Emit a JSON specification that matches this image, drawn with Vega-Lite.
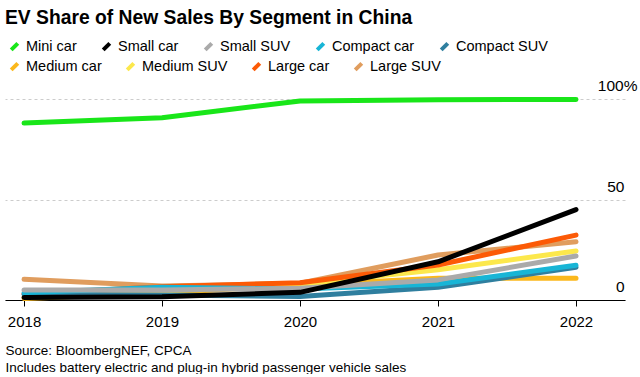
{
  "$schema": "https://vega.github.io/schema/vega-lite/v6.json",
  "width": 620,
  "height": 201,
  "padding": {"left": 5, "right": 3, "top": 8, "bottom": 0},
  "background": "#ffffff",
  "title": {"text": "EV Share of New Sales By Segment in China", "anchor": "start", "fontSize": 19.3, "font": "Liberation Sans", "fontWeight": "bold", "color": "#000000", "offset": 11},
  "config": {"view": {"stroke": null}, "font": "Liberation Sans"},
  "data": {"values": [
    {"segment": "Large SUV", "year": 2018, "share": 10.3},
    {"segment": "Large SUV", "year": 2019, "share": 7},
    {"segment": "Large SUV", "year": 2020, "share": 8.3},
    {"segment": "Large SUV", "year": 2021, "share": 22.4},
    {"segment": "Large SUV", "year": 2022, "share": 29},
    {"segment": "Medium car", "year": 2018, "share": 0.8},
    {"segment": "Medium car", "year": 2019, "share": 3.5},
    {"segment": "Medium car", "year": 2020, "share": 7.5},
    {"segment": "Medium car", "year": 2021, "share": 10.8},
    {"segment": "Medium car", "year": 2022, "share": 10.8},
    {"segment": "Medium SUV", "year": 2018, "share": 1.5},
    {"segment": "Medium SUV", "year": 2019, "share": 4.5},
    {"segment": "Medium SUV", "year": 2020, "share": 8},
    {"segment": "Medium SUV", "year": 2021, "share": 15},
    {"segment": "Medium SUV", "year": 2022, "share": 24.4},
    {"segment": "Large car", "year": 2018, "share": 3},
    {"segment": "Large car", "year": 2019, "share": 6.6},
    {"segment": "Large car", "year": 2020, "share": 8.6},
    {"segment": "Large car", "year": 2021, "share": 17.4},
    {"segment": "Large car", "year": 2022, "share": 32.3},
    {"segment": "Compact SUV", "year": 2018, "share": 2.8},
    {"segment": "Compact SUV", "year": 2019, "share": 2.5},
    {"segment": "Compact SUV", "year": 2020, "share": 1.7},
    {"segment": "Compact SUV", "year": 2021, "share": 6.3},
    {"segment": "Compact SUV", "year": 2022, "share": 16.3},
    {"segment": "Compact car", "year": 2018, "share": 3.6},
    {"segment": "Compact car", "year": 2019, "share": 6.3},
    {"segment": "Compact car", "year": 2020, "share": 5.5},
    {"segment": "Compact car", "year": 2021, "share": 8},
    {"segment": "Compact car", "year": 2022, "share": 17.3},
    {"segment": "Small SUV", "year": 2018, "share": 5},
    {"segment": "Small SUV", "year": 2019, "share": 5},
    {"segment": "Small SUV", "year": 2020, "share": 5.8},
    {"segment": "Small SUV", "year": 2021, "share": 10},
    {"segment": "Small SUV", "year": 2022, "share": 21.9},
    {"segment": "Mini car", "year": 2018, "share": 88},
    {"segment": "Mini car", "year": 2019, "share": 90.7},
    {"segment": "Mini car", "year": 2020, "share": 99},
    {"segment": "Mini car", "year": 2021, "share": 99.6},
    {"segment": "Mini car", "year": 2022, "share": 99.8},
    {"segment": "Small car", "year": 2018, "share": 1.3},
    {"segment": "Small car", "year": 2019, "share": 1.6},
    {"segment": "Small car", "year": 2020, "share": 3.8},
    {"segment": "Small car", "year": 2021, "share": 19},
    {"segment": "Small car", "year": 2022, "share": 45}
  ]},
  "encoding": {
    "x": {
      "field": "year", "type": "quantitative",
      "scale": {"domain": [2017.862, 2022.355], "nice": false, "zero": false},
      "axis": {
        "values": [2018, 2019, 2020, 2021, 2022], "format": "d", "grid": false,
        "domainColor": "#000000", "tickColor": "#000000", "tickSize": 6,
        "labelFontSize": 15, "labelColor": "#000000", "labelPadding": 8,
        "title": ["Source: BloombergNEF, CPCA", "Includes battery electric and plug-in hybrid passenger vehicle sales"],
        "titleAnchor": "start", "titleAlign": "left", "titleFontWeight": "normal",
        "titleFontSize": 13.5, "titleColor": "#000000", "titlePadding": 14, "titleLineHeight": 17
      }
    },
    "y": {
      "field": "share", "type": "quantitative",
      "scale": {"domain": [0, 100], "nice": false},
      "axis": {
        "orient": "right", "values": [0, 50, 100], "grid": true, "gridDash": [3, 3],
        "gridColor": "#cccccc", "domain": false, "ticks": false,
        "labelAlign": "right", "labelBaseline": "alphabetic",
        "labelPadding": {"condition": {"test": "datum.value == 100", "value": 12}, "value": -1},
        "labelOffset": -8.5,
        "labelFontSize": 15.5, "labelColor": "#000000",
        "labelExpr": "datum.value == 100 ? '100%' : datum.label", "title": null
      }
    }
  },
  "layer": [
    {
      "transform": [{"filter": {"field": "segment", "oneOf": ["Medium car", "Medium SUV", "Large car", "Large SUV"]}}],
      "mark": {"type": "line", "strokeWidth": 5, "strokeCap": "round", "strokeJoin": "round", "clip": false},
      "encoding": {
        "stroke": {
          "field": "segment", "type": "nominal",
          "scale": {"domain": ["Medium car", "Medium SUV", "Large car", "Large SUV"], "range": ["#fbb81c", "#fce84c", "#fc5a06", "#e09d5e"]},
          "legend": {
            "orient": "none", "legendX": 2, "legendY": -40, "direction": "horizontal", "title": null, "padding": 0,
            "symbolType": "M-0.6,0.6L0.6,-0.6", "symbolStrokeWidth": 4, "symbolSize": 120,
            "labelFontSize": 14.5, "labelColor": "#000000", "columnPadding": 17
          }
        }
      }
    },
    {
      "transform": [{"filter": {"field": "segment", "oneOf": ["Mini car", "Small car", "Small SUV", "Compact car", "Compact SUV"]}}],
      "mark": {"type": "line", "strokeWidth": 5, "strokeCap": "round", "strokeJoin": "round", "clip": false},
      "encoding": {
        "color": {
          "field": "segment", "type": "nominal",
          "scale": {"domain": ["Mini car", "Small car", "Small SUV", "Compact car", "Compact SUV"], "range": ["#19e619", "#000000", "#aaaaaa", "#18b5d6", "#2f7f9f"]},
          "legend": {
            "orient": "none", "legendX": 2, "legendY": -60, "direction": "horizontal", "title": null, "padding": 0,
            "symbolType": "M-0.6,0.6L0.6,-0.6", "symbolStrokeWidth": 4, "symbolSize": 120,
            "labelFontSize": 14.5, "labelColor": "#000000", "columnPadding": 18
          }
        }
      }
    }
  ]
}
